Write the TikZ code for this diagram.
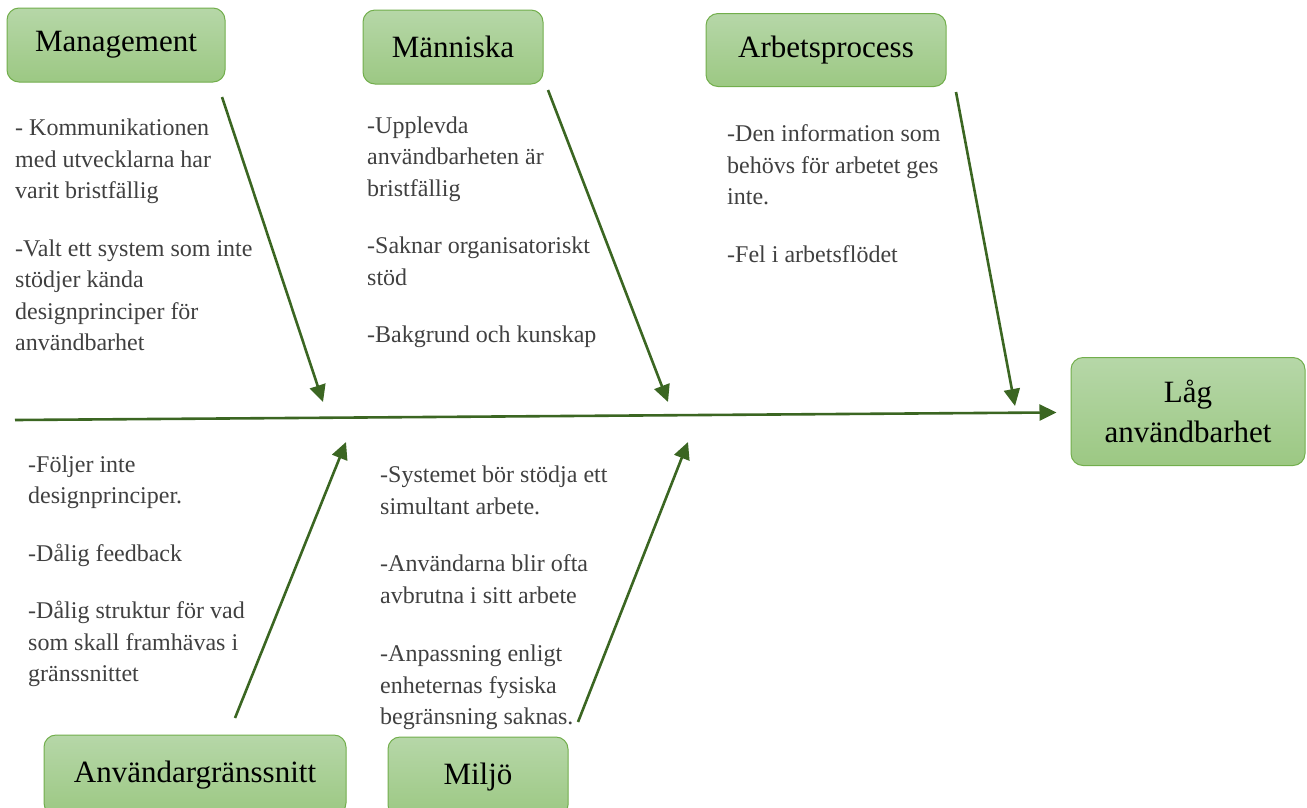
\documentclass[tikz,border=0pt]{standalone}
\usepackage{fontspec}
\setmainfont{Liberation Serif}
\usetikzlibrary{arrows.meta}
\definecolor{boneGreen}{HTML}{3B6622}
\definecolor{boxTop}{HTML}{B6D7A8}
\definecolor{boxBottom}{HTML}{9CC883}
\definecolor{boxEdge}{HTML}{72AE4C}
\definecolor{noteGray}{HTML}{404040}
\begin{document}
\begin{tikzpicture}
[x=1pt,y=-1pt,
  boxDecorate/.style={shape=rectangle,rounded corners=12pt,draw=boxEdge,line width=1pt,%
    top color=boxTop,bottom color=boxBottom,align=center,inner sep=0pt,%
    font=\fontsize{31}{40}\selectfont},%
  noteDecorate/.style={anchor=north west,inner sep=0pt,align=left,%
    text=noteGray,font=\fontsize{24}{31.5}\selectfont},%
  lineDecorate/.style={-{Triangle[length=17pt,width=16pt]},line width=2.6pt,draw=boneGreen}]
\useasboundingbox (0,0) rectangle (1307,807);
%% category boxes
\foreach \nodename/\x/\y/\w/\h/\boxtext in {
  mgmt/116/45/218/74/Management, human/453/47/180/74/Människa,
  process/826/50/240/73/Arbetsprocess, ui/195/775/302/80/Användargränssnitt,
  env/478/777/180/80/Miljö}
{
  \node (\nodename) at (\x,\y) [boxDecorate,minimum width=\w pt,minimum height=\h pt] {\boxtext};
}
\node (effect) at (1188,411.5) [boxDecorate,minimum width=234pt,minimum height=108pt] {Låg\\användbarhet};
%% causes
\node (mgmtNote) at (15,119) [noteDecorate] {- Kommunikationen\\med utvecklarna har\\varit bristfällig\\[26pt]%
  -Valt ett system som inte\\stödjer kända\\designprinciper för\\användbarhet};
\node (humanNote) at (367,116.5) [noteDecorate] {-Upplevda\\användbarheten är\\bristfällig\\[26pt]%
  -Saknar organisatoriskt\\stöd\\[26pt]-Bakgrund och kunskap};
\node (processNote) at (727,124.5) [noteDecorate] {-Den information som\\behövs för arbetet ges\\inte.\\[26pt]%
  -Fel i arbetsflödet};
\node (uiNote) at (28,455.5) [noteDecorate] {-Följer inte\\designprinciper.\\[26pt]-Dålig feedback\\[26pt]%
  -Dålig struktur för vad\\som skall framhävas i\\gränssnittet};
\node (envNote) at (380,466) [noteDecorate] {-Systemet bör stödja ett\\simultant arbete.\\[26pt]%
  -Användarna blir ofta\\avbrutna i sitt arbete\\[27pt]-Anpassning enligt\\enheternas fysiska\\begränsning saknas.};
%% bone ends
\foreach \pointname/\x/\y in {
  mgmtFrom/222/97, mgmtTo/323/402, humanFrom/548/90, humanTo/668/402,
  processFrom/956/92, processTo/1015/406, uiFrom/235/718, uiTo/346/442,
  envFrom/578/722, envTo/688/442, spineStart/15/420}
{
  \coordinate (\pointname) at (\x,\y);
}
%% bones
\path
\foreach \startnode/\endnode in {
  mgmtFrom/mgmtTo, humanFrom/humanTo, processFrom/processTo, uiFrom/uiTo, envFrom/envTo}
{
  (\startnode) edge[lineDecorate] (\endnode)
}
(spineStart) edge[lineDecorate,shorten >=14pt] (effect);
\end{tikzpicture}
\end{document}
